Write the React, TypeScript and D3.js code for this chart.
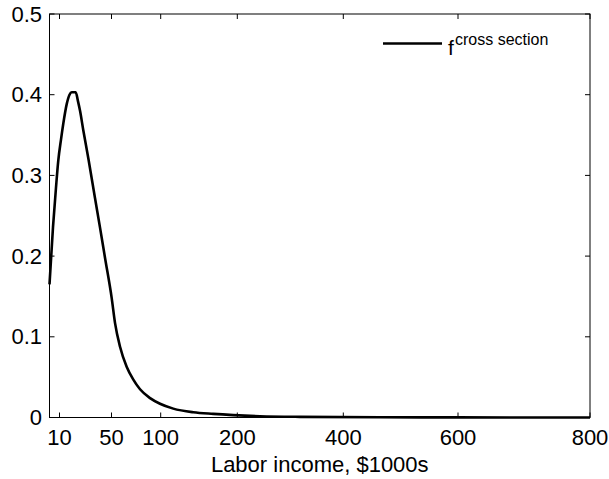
import React from "react";
import * as d3 from "d3";

// Data
const incomes = [2, 4.8, 7.2, 9, 11.2, 12.9, 15.5, 17.7, 19.4, 22.5, 24.2, 25.8, 28.3, 32.3, 37.3, 41.2, 45, 50.2, 53.6, 58.6, 65.4, 72.2, 79, 89.2, 99.3, 116.4, 142.5, 168.6, 194.8, 242.8, 318, 464, 600, 800];
const density = [0.165, 0.236, 0.285, 0.318, 0.345, 0.364, 0.388, 0.4, 0.403, 0.403, 0.392, 0.38, 0.356, 0.32, 0.272, 0.235, 0.198, 0.148, 0.117, 0.088, 0.063, 0.047, 0.035, 0.024, 0.017, 0.011, 0.0065, 0.0045, 0.003, 0.0016, 0.0008, 0.0003, 0.0001, 0];
const xTicks = [10, 50, 100, 200, 400, 600, 800];
const yTicks = [0, 0.1, 0.2, 0.3, 0.4, 0.5];
const xLabel = "Labor income, $1000s";
const legendMain = "f";
const legendSup = "cross section";

// Axis breakpoints of the (non-uniform) horizontal scale
const xBreaks = [2, 10, 50, 100, 200, 400, 600, 800];

const W = 609, H = 479;
const L = 49.5, R = 590, T = 14, B = 417.5;
const FONT = "'Liberation Sans', Arial, Helvetica, sans-serif";

export default function App() {
  const frac = [0, 10, 62, 111.2, 187.8, 293.8, 408.5, 540.5].map(v => v / 540.5);
  const x = d3.scaleLinear().domain(xBreaks).range(frac.map(f => L + f * (R - L)));
  const y = d3.scaleLinear().domain([0, 0.5]).range([B, T]);
  const pts = incomes.map((v, i) => [v, density[i]] as [number, number]);
  const line = d3.line<[number, number]>().x(d => x(d[0])).y(d => y(d[1])).curve(d3.curveMonotoneX);
  const tl = 5;
  return (
    <svg width={W} height={H} style={{ position: "absolute", left: 0, top: 0, background: "#fff" }} fontFamily={FONT}>
      <rect x={0} y={0} width={W} height={H} fill="#fff" />
      <path d={line(pts) || ""} fill="none" stroke="#000" strokeWidth={2.6} strokeLinejoin="round" />
      <rect x={L} y={T} width={R - L} height={B - T} fill="none" stroke="#000" strokeWidth={1} />
      {xTicks.map(t => (
        <g key={"x" + t}>
          <line x1={x(t)} x2={x(t)} y1={B} y2={B - tl} stroke="#000" strokeWidth={1} />
          <line x1={x(t)} x2={x(t)} y1={T} y2={T + tl} stroke="#000" strokeWidth={1} />
          <text x={x(t)} y={445} fontSize={22} textAnchor="middle" fill="#000">{t}</text>
        </g>
      ))}
      {yTicks.map(t => (
        <g key={"y" + t}>
          <line x1={L} x2={L + tl} y1={y(t)} y2={y(t)} stroke="#000" strokeWidth={1} />
          <line x1={R} x2={R - tl} y1={y(t)} y2={y(t)} stroke="#000" strokeWidth={1} />
          <text x={42} y={y(t) + 7.5} fontSize={22} textAnchor="end" fill="#000">{t === 0 ? "0" : d3.format(".1f")(t)}</text>
        </g>
      ))}
      <text x={(L + R) / 2} y={472} fontSize={22} textAnchor="middle" fill="#000">{xLabel}</text>
      <line x1={383} x2={442} y1={43.5} y2={43.5} stroke="#000" strokeWidth={2.6} />
      <text x={448} y={55} fontSize={21} fill="#000">{legendMain}</text>
      <text x={455} y={45} fontSize={16} fill="#000">{legendSup}</text>
    </svg>
  );
}
